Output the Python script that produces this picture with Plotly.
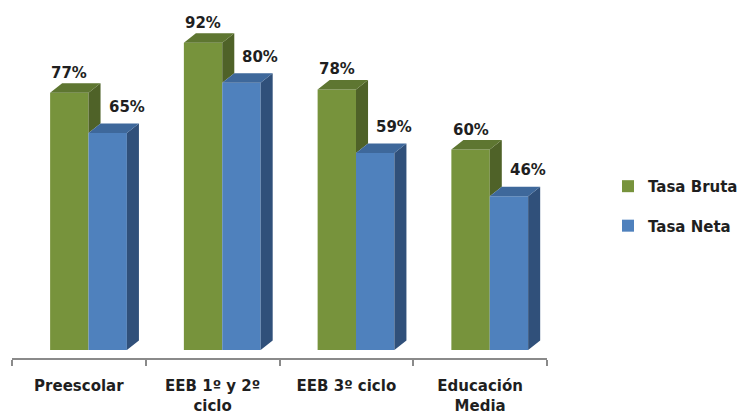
import plotly.graph_objects as go

# Enrolment rates by education level (percent)
categories = ["Preescolar", "EEB 1º y 2º<br>ciclo", "EEB 3º ciclo", "Educación<br>Media"]
tasa_bruta = [77, 92, 78, 60]
tasa_neta = [65, 80, 59, 46]
series_names = ["Tasa Bruta", "Tasa Neta"]

# Styling / pseudo-3D geometry (axis units)
BAR_W = 0.287
OFF_BRUTA = -0.215
OFF_NETA = OFF_BRUTA + BAR_W
DX = 0.09      # depth offset along x
DY = 2.85      # depth offset along y
GREEN = dict(front="#77933C", top="#5E7631", side="#4F6228")
BLUE = dict(front="#4F81BD", top="#3E689B", side="#30507A")
FONT = "DejaVu Sans"
TXT = "#1f1f1f"
W, H = 740, 417

xs = list(range(len(categories)))

fig = go.Figure()

# Front faces as real bars
fig.add_trace(go.Bar(x=xs, y=tasa_bruta, name=series_names[0], offset=OFF_BRUTA, width=BAR_W,
                     marker=dict(color=GREEN["front"], line=dict(width=0)),
                     legendgroup="a", hoverinfo="skip"))
fig.add_trace(go.Bar(x=xs, y=tasa_neta, name=series_names[1], offset=OFF_NETA, width=BAR_W,
                     marker=dict(color=BLUE["front"], line=dict(width=0)),
                     legendgroup="b", hoverinfo="skip"))


def face_trace(px, py, color):
    return go.Scatter(x=px, y=py, mode="lines", fill="toself", fillcolor=color,
                      line=dict(width=0, color=color), hoverinfo="skip", showlegend=False)


def polys(vals, off, lower=None):
    """Top and right-side polygons for each bar; side starts at `lower` (hidden part removed)."""
    tx, ty, sx, sy = [], [], [], []
    for i, v in enumerate(vals):
        x0 = i + off
        x1 = x0 + BAR_W
        tx += [x0, x1, x1 + DX, x0 + DX, x0, None]
        ty += [v, v, v + DY, v + DY, v, None]
        lo = 0 if lower is None else min(lower[i], v)
        sx += [x1, x1, x1 + DX, x1 + DX, x1, None]
        sy += [lo, v, v + DY, lo + DY, lo, None]
    return tx, ty, sx, sy


# Green: side only visible above the blue bar standing in front of it
gtx, gty, gsx, gsy = polys(tasa_bruta, OFF_BRUTA, lower=tasa_neta)
btx, bty, bsx, bsy = polys(tasa_neta, OFF_NETA)
fig.add_trace(face_trace(gsx, gsy, GREEN["side"]))
fig.add_trace(face_trace(gtx, gty, GREEN["top"]))
fig.add_trace(face_trace(bsx, bsy, BLUE["side"]))
fig.add_trace(face_trace(btx, bty, BLUE["top"]))

label_font = dict(family=FONT, size=15, color=TXT, weight="bold")

# Value labels
for i, v in enumerate(tasa_bruta):
    fig.add_annotation(x=i + OFF_BRUTA + BAR_W / 2, y=v, text=f"{v}%", showarrow=False,
                       yshift=20, font=label_font)
for i, v in enumerate(tasa_neta):
    fig.add_annotation(x=i + OFF_NETA + BAR_W / 2, y=v, text=f"{v}%", showarrow=False,
                       xshift=19, yshift=26, font=label_font)

fig.update_layout(
    width=W, height=H,
    margin=dict(l=0, r=0, t=10, b=59, autoexpand=False),
    paper_bgcolor="white", plot_bgcolor="white",
    barmode="overlay",
    showlegend=True,
    legend=dict(x=608 / W, xanchor="left", y=0.437, yanchor="middle",
                traceorder="grouped", tracegroupgap=17,
                font=label_font, bgcolor="rgba(0,0,0,0)"),
    xaxis=dict(domain=[12 / W, 547 / W], range=[-0.5, 3.5],
               tickmode="array", tickvals=xs, ticktext=categories,
               showgrid=False, zeroline=False, automargin=False,
               showline=True, linecolor="#8a8a8a", linewidth=2,
               ticks="outside", ticklen=5, tickcolor="rgba(0,0,0,0)",
               ticklabelstandoff=8,
               minor=dict(tickmode="array", tickvals=[-0.5, 0.5, 1.5, 2.5, 3.5],
                          ticks="outside", ticklen=6, tickcolor="#8a8a8a", tickwidth=1.5),
               tickfont=label_font, fixedrange=True),
    yaxis=dict(range=[-2.4, 101.8], visible=False, showgrid=False, zeroline=False,
               automargin=False, fixedrange=True),
)

fig.write_html("out.html")
